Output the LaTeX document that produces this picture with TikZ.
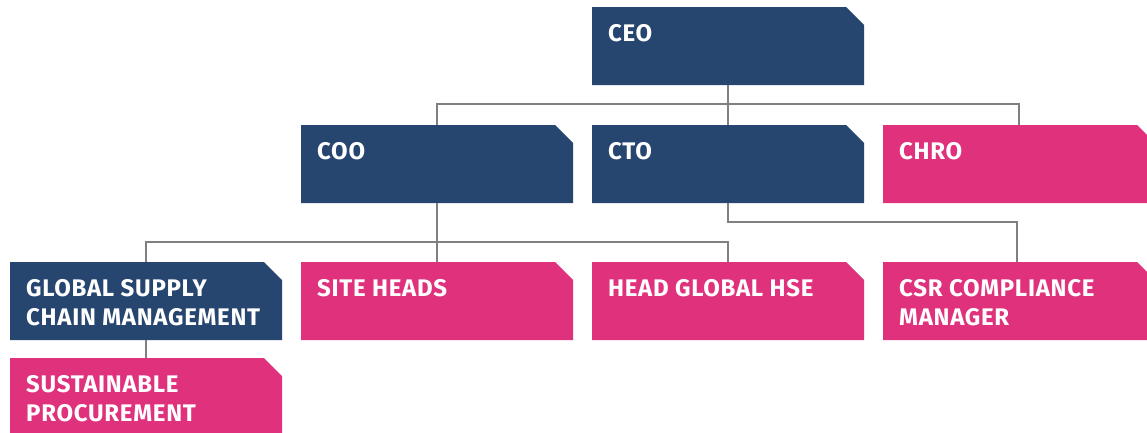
\documentclass[tikz,border=0pt]{standalone}
\usepackage{fontspec}
\newfontfamily\boxfont[LetterSpace=3.0]{Fira Sans}

\definecolor{navy}{RGB}{38,70,112}
\definecolor{pink}{RGB}{224,49,125}
\definecolor{wire}{RGB}{128,128,128}

\tikzset{
  box/.style={rectangle, draw=none, anchor=north west,
    minimum width=272pt, minimum height=78pt, inner sep=0pt, outer sep=0pt},
  lbl/.style={anchor=north west, inner sep=0pt, text=white, align=left,
    font=\boxfont\fontsize{24}{29}\selectfont\bfseries},
  wire/.style={draw=wire, line width=1.8pt}
}

\begin{document}
\begin{tikzpicture}[x=1pt, y=-1pt]
   \clip (0,0) rectangle (1147,432);

   \foreach \n/\x/\y/\c/\t in {ceo/592/7/navy/CEO, coo/301/125/navy/COO, cto/592/125/navy/CTO,
       chro/883/125/pink/CHRO, gscm/10/262/navy/{GLOBAL SUPPLY\\CHAIN MANAGEMENT},
       site/301/262/pink/SITE HEADS, hse/592/262/pink/HEAD GLOBAL HSE,
       csr/883/262/pink/{CSR COMPLIANCE\\MANAGER}, sust/10/358/pink/{SUSTAINABLE\\PROCUREMENT}}
   {
     \node [box] (\n) at (\x,\y) {};
     \fill [\c] (\n.north west) -- ([xshift=-18pt]\n.north east) -- ([yshift=-18pt]\n.north east)
       -- (\n.south east) -- (\n.south west) -- cycle;
     \node [lbl] (\n-t) at ([shift={(16,17)}]\n.north west) {\t};
   }

   \foreach \i/\j in {coo/ceo, cto/ceo, chro/ceo}
     \draw [wire] (\j.south) -- ++(0,19) -| (\i.north);
   \foreach \i/\j in {gscm/coo, site/coo, hse/coo}
     \draw [wire] (\j.south) -- ++(0,39) -| (\i.north);
   \draw [wire] (cto.south) -- ++(0,19) -| ([xshift=-2pt]csr.north);
   \draw [wire] (gscm.south) -- (sust.north);
\end{tikzpicture}
\end{document}
